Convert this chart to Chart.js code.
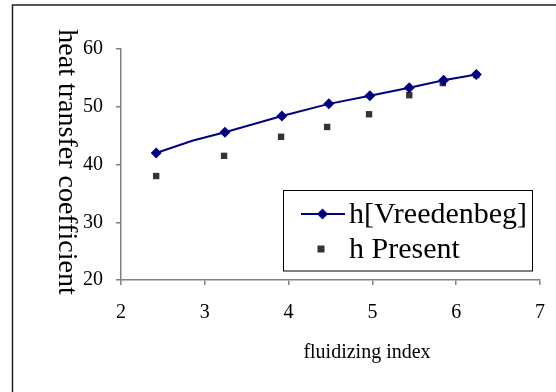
<!DOCTYPE html>
<html>
<head>
<meta charset="utf-8">
<script src="https://cdn.jsdelivr.net/npm/chart.js@4"></script>
<style>
  html, body { margin: 0; padding: 0; background: #fff; }
  #wrap { width: 556px; height: 392px; position: relative; }
</style>
</head>
<body>
<div id="wrap"><canvas id="chart" width="556" height="392"></canvas></div>
<script>
// fluidizing index vs heat transfer coefficient
const vreedX = [2.42, 2.85, 3.24, 3.92, 4.48, 4.97, 5.44, 5.85, 6.24];
const vreedY = [42.0, 44.1, 45.6, 48.4, 50.5, 51.9, 53.3, 54.6, 55.6];
const vreedMarker = [true, false, true, true, true, true, true, true, true];

const presentX = [2.42, 3.23, 3.91, 4.46, 4.96, 5.44, 5.84, 6.24];
const presentY = [38.0, 41.5, 44.8, 46.5, 48.7, 52.0, 54.1, 55.5];

const xTicks = [2, 3, 4, 5, 6, 7];
const yTicks = [20, 30, 40, 50, 60];

const seriesNames = ["h[Vreedenbeg]", "h Present"];
const xTitle = "fluidizing index";
const yTitle = "heat transfer coefficient";

const SERIF = "'Liberation Serif', 'Times New Roman', serif";
const AXIS_GRAY = "#808080";

const toPoints = (xs, ys) => xs.map((x, i) => ({ x, y: ys[i] }));

// frame, rotated y title, x title and boxed legend
const decorations = {
  id: "decorations",
  afterDraw(chart) {
    const ctx = chart.ctx;
    const ds = chart.data.datasets;
    ctx.save();

    ctx.strokeStyle = "#222";
    ctx.lineWidth = 1.5;
    ctx.strokeRect(12.5, 5, 700, 600);

    ctx.fillStyle = "#000";
    ctx.font = `20px ${SERIF}`;
    ctx.textAlign = "center";
    ctx.textBaseline = "alphabetic";
    ctx.fillText(xTitle, 367, 358);

    ctx.save();
    ctx.translate(59, 162);
    ctx.rotate(Math.PI / 2);
    ctx.font = `28px ${SERIF}`;
    ctx.fillText(yTitle, 0, 0);
    ctx.restore();

    // legend box
    const box = { left: 283.5, top: 190.5, right: 532.5, bottom: 271 };
    ctx.fillStyle = "#fff";
    ctx.fillRect(box.left, box.top, box.right - box.left, box.bottom - box.top);
    ctx.strokeStyle = "#000";
    ctx.lineWidth = 1;
    ctx.strokeRect(box.left, box.top, box.right - box.left, box.bottom - box.top);

    const rows = [214, 249];
    ctx.font = `30px ${SERIF}`;
    ctx.textAlign = "left";
    ctx.textBaseline = "alphabetic";

    // row 1: line with diamond
    ctx.strokeStyle = ds[0].borderColor;
    ctx.lineWidth = 2;
    ctx.beginPath();
    ctx.moveTo(301, rows[0]);
    ctx.lineTo(345, rows[0]);
    ctx.stroke();
    ctx.fillStyle = ds[0].pointBackgroundColor;
    ctx.beginPath();
    ctx.moveTo(322.5, rows[0] - 5.5);
    ctx.lineTo(328, rows[0]);
    ctx.lineTo(322.5, rows[0] + 5.5);
    ctx.lineTo(317, rows[0]);
    ctx.closePath();
    ctx.fill();

    // row 2: square
    ctx.fillStyle = ds[1].pointBackgroundColor;
    ctx.fillRect(317.5, rows[1] - 3.5, 7, 7);

    ctx.fillStyle = "#000";
    ctx.fillText(seriesNames[0], 349, 223);
    ctx.fillText(seriesNames[1], 349, 258);

    ctx.restore();
  }
};

new Chart(document.getElementById("chart"), {
  type: "scatter",
  data: {
    datasets: [
      {
        label: seriesNames[0],
        data: toPoints(vreedX, vreedY),
        showLine: true,
        borderColor: "#000080",
        backgroundColor: "#000080",
        pointBackgroundColor: "#000080",
        pointBorderColor: "#000080",
        borderWidth: 2,
        pointStyle: "rectRot",
        pointRadius: vreedMarker.map((m) => (m ? 5.5 : 0)),
        pointBorderWidth: 0,
        tension: 0,
        order: 1
      },
      {
        label: seriesNames[1],
        data: toPoints(presentX, presentY),
        showLine: false,
        backgroundColor: "#333333",
        pointBackgroundColor: "#333333",
        pointBorderColor: "#333333",
        pointStyle: "rect",
        pointRadius: 4.5,
        pointBorderWidth: 0,
        order: 2
      }
    ]
  },
  options: {
    responsive: false,
    animation: false,
    devicePixelRatio: 1,
    layout: { padding: { top: 49, right: 16, left: 0, bottom: 0 } },
    plugins: {
      legend: { display: false },
      tooltip: { enabled: false }
    },
    scales: {
      x: {
        type: "linear",
        min: 2,
        max: 7,
        afterFit: (scale) => {
          scale.height = 112;
          scale.paddingLeft = 0;
          scale.paddingRight = 0;
        },
        afterBuildTicks: (scale) => { scale.ticks = xTicks.map((v) => ({ value: v })); },
        border: { color: AXIS_GRAY, width: 1.5 },
        grid: { drawOnChartArea: false, drawTicks: true, tickLength: 5, color: AXIS_GRAY, lineWidth: 1.5 },
        ticks: { color: "#000", padding: 16, font: { family: SERIF, size: 20 } }
      },
      y: {
        type: "linear",
        min: 20,
        max: 60,
        afterFit: (scale) => {
          scale.width = 121;
          scale.paddingTop = 0;
          scale.paddingBottom = 0;
        },
        afterBuildTicks: (scale) => { scale.ticks = yTicks.map((v) => ({ value: v })); },
        border: { color: AXIS_GRAY, width: 1.5 },
        grid: { drawOnChartArea: false, drawTicks: true, tickLength: 5, color: AXIS_GRAY, lineWidth: 1.5 },
        ticks: { color: "#000", padding: 13, font: { family: SERIF, size: 20 } }
      }
    }
  },
  plugins: [decorations]
});
</script>
</body>
</html>
